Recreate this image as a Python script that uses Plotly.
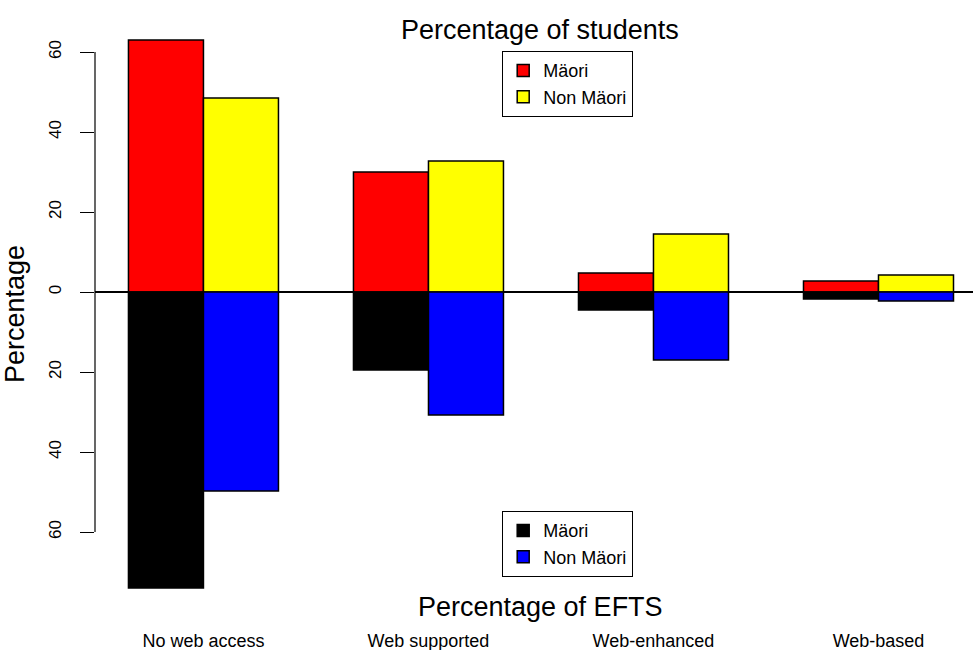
import plotly.graph_objects as go

categories = ["No web access", "Web supported", "Web-enhanced", "Web-based"]
maori_students = [63, 30, 4.75, 2.75]
non_maori_students = [48.5, 32.75, 14.5, 4.25]
maori_efts = [74, 19.5, 4.5, 1.75]
non_maori_efts = [49.75, 30.75, 17, 2.25]
ytick_vals = [60, 40, 20, 0, -20, -40, -60]
ytick_text = ["60", "40", "20", "0", "20", "40", "60"]

FONT = "Arial, Liberation Sans, Helvetica, sans-serif"
line = dict(color="black", width=1.5)

fig = go.Figure()
fig.add_trace(go.Bar(x=categories, y=maori_students, name="Mäori", offsetgroup="m",
                     marker=dict(color="#ff0000", line=line), legend="legend"))
fig.add_trace(go.Bar(x=categories, y=non_maori_students, name="Non Mäori", offsetgroup="n",
                     marker=dict(color="#ffff00", line=line), legend="legend"))
fig.add_trace(go.Bar(x=categories, y=[-v for v in maori_efts], name="Mäori", offsetgroup="m",
                     marker=dict(color="#000000", line=line), legend="legend2"))
fig.add_trace(go.Bar(x=categories, y=[-v for v in non_maori_efts], name="Non Mäori", offsetgroup="n",
                     marker=dict(color="#0000ff", line=line), legend="legend2"))

legend_style = dict(xanchor="left", yanchor="top", bordercolor="black", borderwidth=1.2,
                    bgcolor="white", font=dict(family=FONT, size=18, color="black"),
                    traceorder="normal", itemclick=False, tracegroupgap=0,
                    itemwidth=30)

fig.update_layout(
    width=973, height=650,
    margin=dict(l=95, r=0, t=18, b=40, autoexpand=False),
    paper_bgcolor="white", plot_bgcolor="white",
    barmode="group", bargap=1/3, bargroupgap=0,
    font=dict(family=FONT, color="black"),
    showlegend=True,
    legend=dict(x=(502 - 95) / 878, y=(610 - 51) / 592, **legend_style),
    legend2=dict(x=(502 - 95) / 878, y=(610 - 511) / 592, **legend_style),
    xaxis=dict(range=[-0.482, 3.42], showline=False, showgrid=False, ticks="",
               automargin=False,
               tickfont=dict(size=18, family=FONT), ticklabelstandoff=18),
    yaxis=dict(range=[-79.5, 68.5], showgrid=False, showline=False, automargin=False,
               zeroline=True, zerolinecolor="black", zerolinewidth=1.5,
               tickvals=ytick_vals, ticktext=ytick_text, tickangle=-90,
               ticks="outside", ticklen=14, tickwidth=1.2, tickcolor="black",
               tickfont=dict(size=17, family=FONT), ticklabelstandoff=12,
               title=dict(text="Percentage", font=dict(size=27, family=FONT), standoff=14)),
    shapes=[dict(type="line", xref="paper", x0=0, x1=0, yref="y", y0=-60, y1=60,
                 line=dict(color="black", width=1.2))],
    annotations=[
        dict(text="Percentage of students", xref="paper", yref="paper", x=(540 - 95) / 878,
             y=(610 - 30) / 592, xanchor="center", yanchor="middle",
             showarrow=False, font=dict(size=27, family=FONT)),
        dict(text="Percentage of EFTS", xref="paper", yref="paper", x=(540 - 95) / 878,
             y=(610 - 607) / 592, xanchor="center", yanchor="middle",
             showarrow=False, font=dict(size=27, family=FONT)),
    ],
)

fig.write_html("out.html", config={"displayModeBar": False},
               post_script="document.body.style.margin='0';document.body.style.padding='0';document.body.style.overflow='hidden';")
